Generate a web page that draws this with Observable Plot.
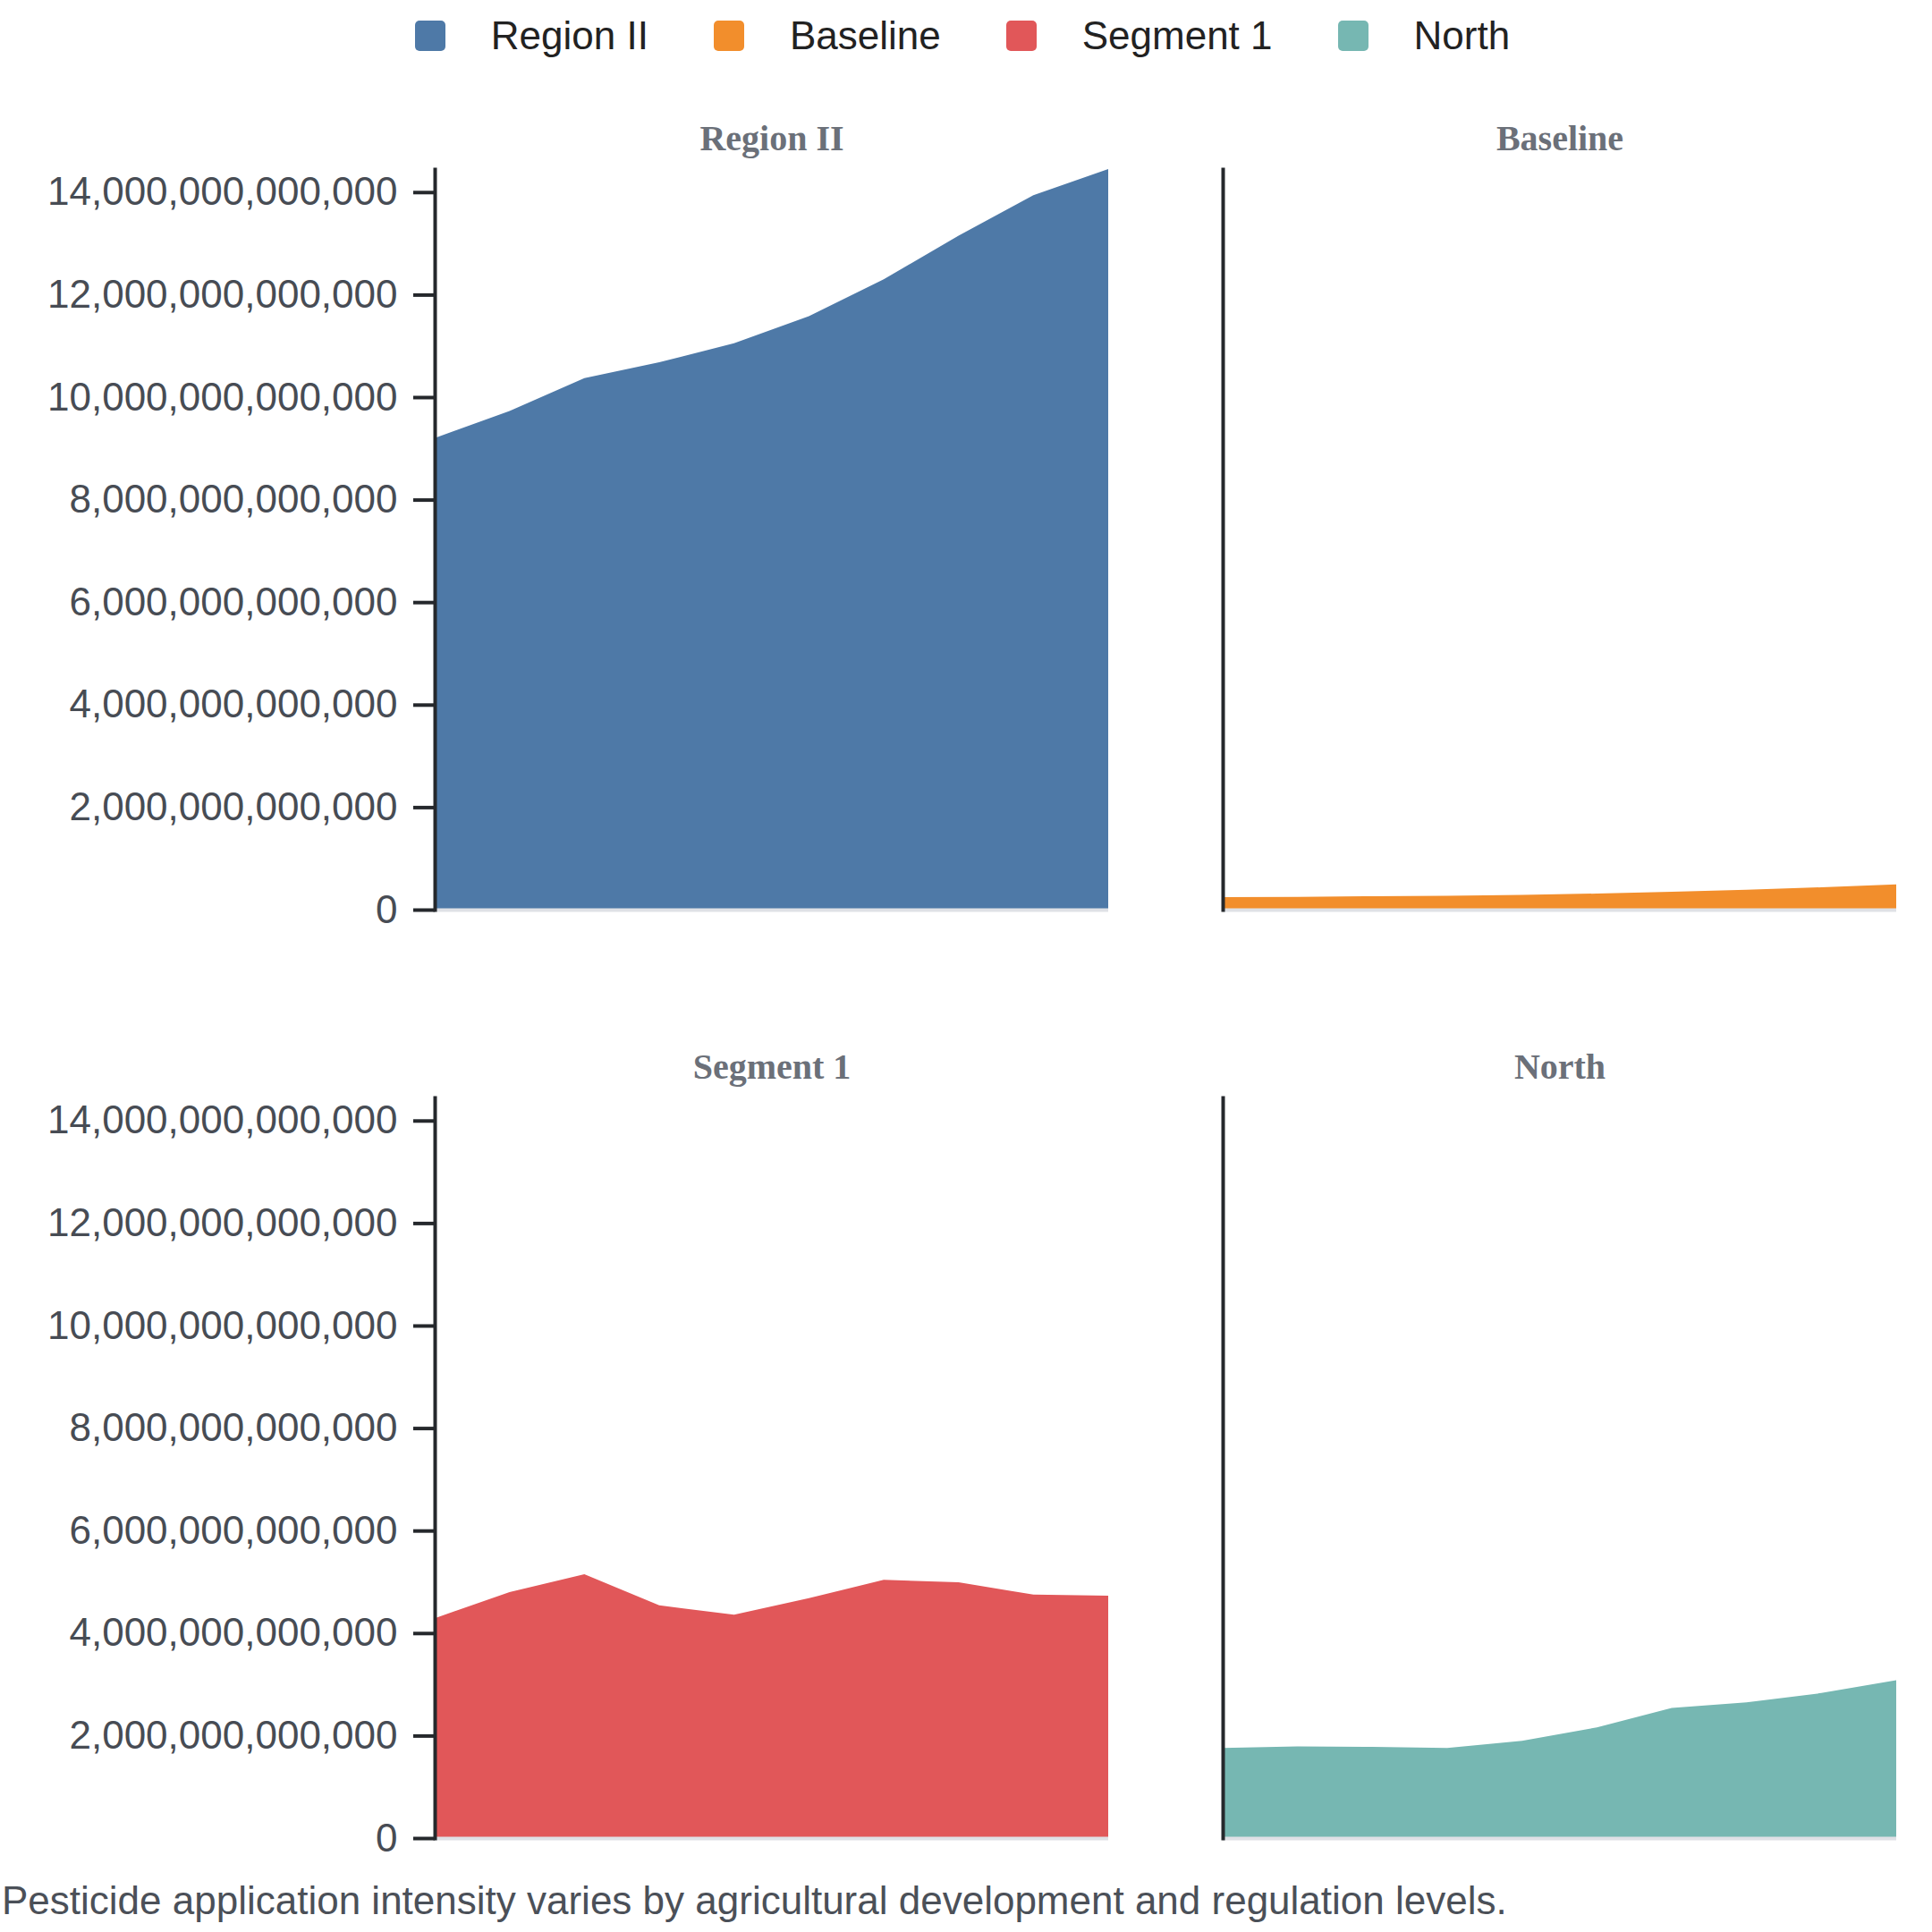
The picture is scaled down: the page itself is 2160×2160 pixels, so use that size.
<!DOCTYPE html>
<html>
<head>
<meta charset="utf-8">
<script src="https://cdn.jsdelivr.net/npm/d3@7"></script>
<script src="https://cdn.jsdelivr.net/npm/@observablehq/plot@0.6"></script>
<style>
  html, body { margin: 0; padding: 0; background: #ffffff; }
  body { width: 2160px; font-family: "Liberation Sans", Arial, sans-serif; }
  #legend { height: 80px; display: flex; align-items: center; justify-content: center; position: relative; left: -4px; }
  #legend .lg-swatches { justify-content: center; font-family: "Liberation Sans", Arial, sans-serif !important; font-size: 44px !important; color: #222 !important; min-height: 0 !important; margin: 0 !important; }
  #legend .lg-swatch { margin-right: 73px !important; }
  #legend .lg-swatch:last-child { margin-right: 0 !important; }
  #legend .lg-swatch > svg { margin-right: 51px !important; }
  #legend .lg-swatch rect { rx: 5px; ry: 5px; }
  #chart svg { display: block; }
  #caption { font-size: 44px; line-height: 50px; color: #4b5058; padding-left: 2px; margin-top: -12px; white-space: nowrap; }
</style>
</head>
<body>
<div id="legend"></div>
<div id="chart"></div>
<div id="caption">Pesticide application intensity varies by agricultural development and regulation levels.</div>
<script>
// ---- data ----
const series = ["Region II", "Baseline", "Segment 1", "North"];
const colors = ["#4e79a7", "#f28e2c", "#e15759", "#76b7b2"];
const years = [2014, 2015, 2016, 2017, 2018, 2019, 2020, 2021, 2022, 2023];
const regionII = [9.20e12, 9.73e12, 10.37e12, 10.68e12, 11.05e12, 11.58e12, 12.30e12, 13.15e12, 13.94e12, 14.45e12];
const baseline = [0.244e12, 0.250e12, 0.262e12, 0.271e12, 0.290e12, 0.314e12, 0.349e12, 0.389e12, 0.436e12, 0.494e12];
const segment1 = [4.29e12, 4.80e12, 5.15e12, 4.54e12, 4.36e12, 4.68e12, 5.04e12, 4.99e12, 4.75e12, 4.73e12];
const north = [1.76e12, 1.79e12, 1.78e12, 1.76e12, 1.90e12, 2.16e12, 2.54e12, 2.65e12, 2.83e12, 3.08e12];
const yTicks = [0, 2e12, 4e12, 6e12, 8e12, 10e12, 12e12, 14e12];

const valuesBySeries = [regionII, baseline, segment1, north];
const data = [];
series.forEach((s, i) => {
  years.forEach((yr, j) => {
    data.push({series: s, col: i % 2, row: Math.floor(i / 2), year: yr, value: valuesBySeries[i][j]});
  });
});
const titleRows = series.map((s, i) => ({series: s, col: i % 2, row: Math.floor(i / 2)}));
const fmt = d3.format(",.0f");

// ---- legend ----
const legend = Plot.legend({
  color: {domain: series, range: colors},
  legend: "swatches",
  swatchSize: 34,
  className: "lg"
});
document.getElementById("legend").appendChild(legend);

// ---- chart ----
const chart = Plot.plot({
  width: 2160,
  height: 2032,
  marginTop: 109,
  marginBottom: 56,
  marginLeft: 486,
  marginRight: 40,
  style: {fontFamily: "'Liberation Sans', Arial, sans-serif", fontSize: "44px", color: "#474c54", background: "white"},
  x: {axis: null},
  y: {axis: null, label: null, tickFormat: fmt},
  fx: {axis: null, padding: 0.1453},
  fy: {axis: null, padding: 0.2023},
  color: {domain: series, range: colors},
  marks: [
    Plot.areaY(data, {x: "year", y: "value", fx: "col", fy: "row", fill: "series"}),
    Plot.ruleY([0], {stroke: "#dfe1e6", strokeWidth: 4}),
    Plot.frame({anchor: "left", stroke: "#25282c", strokeWidth: 4}),
    Plot.axisY(yTicks, {tickSize: 24, tickPadding: 18, tickFormat: fmt, stroke: "#25282c", strokeWidth: 4, fill: "#474c54", fontSize: 44, label: null}),
    Plot.text(titleRows, {fx: "col", fy: "row", text: "series", frameAnchor: "top", dy: -50, fontFamily: "'Liberation Serif', 'Times New Roman', serif", fontWeight: "bold", fontSize: 40, fill: "#6b7079"})
  ]
});
document.getElementById("chart").appendChild(chart);
</script>
</body>
</html>
